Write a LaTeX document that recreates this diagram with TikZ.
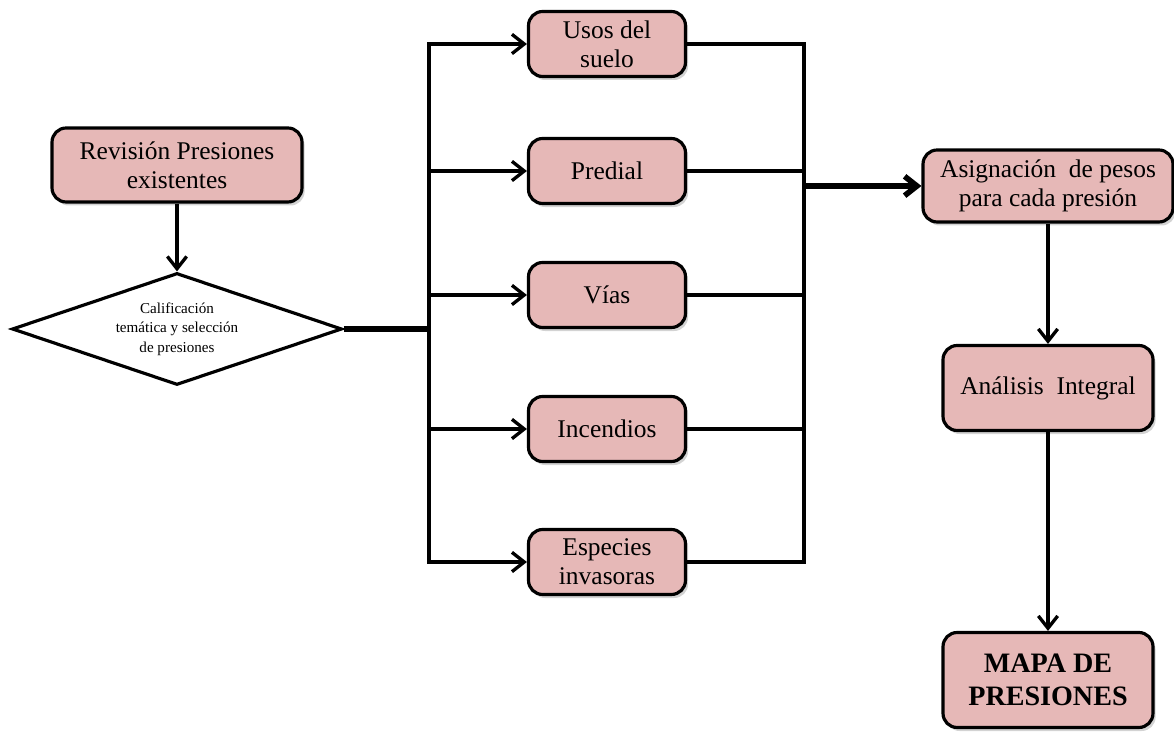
\documentclass[tikz,border=0pt]{standalone}
\usepackage{fontspec}
\setmainfont{Liberation Serif}
\usetikzlibrary{arrows.meta,shapes.geometric,shadows}

\definecolor{boxpink}{RGB}{230,184,183}

\begin{document}
\begin{tikzpicture}[x=0.02cm, y=-0.02cm,
  font=\fontsize{14.5}{16.5}\selectfont, >={Straight Barb[length=7pt,width=11pt]},
  box/.style={draw, line width=1.8pt, rounded corners=8pt, fill=boxpink, align=center, inner sep=2pt,
    drop shadow={opacity=0.35, shadow xshift=1.5pt, shadow yshift=-2pt}},
  mid/.style={box, minimum width=3.14cm, minimum height=1.3cm},
  dec/.style={draw, diamond, aspect=3, line width=1.8pt, fill=white, align=center, inner sep=0pt,
    minimum width=6.6cm, minimum height=2.24cm, font=\fontsize{8.6}{11}\selectfont},
  link/.style={line width=1.9pt},
  trunk/.style={line width=3.2pt}]

  \useasboundingbox (0,0) rectangle (1174,732);

  % --- review and selection ---
  \node[box, minimum width=5cm, minimum height=1.48cm] (rev) at (177,165) {Revisión Presiones\\existentes};
  \node[dec] (calif) at (177,329) {Calificación\\temática y selección\\de presiones};

  % --- the five pressures ---
  \node[mid] (usos) at (607,44)  {Usos del\\suelo};
  \node[mid] (pred) at (607,171) {Predial};
  \node[mid] (vias) at (607,295) {Vías};
  \node[mid] (inc)  at (607,429) {Incendios};
  \node[mid] (esp)  at (607,562) {Especies\\invasoras};

  % --- weighting and result ---
  \node[box, minimum width=5cm, minimum height=1.44cm] (asig) at (1048,186) {Asignación~ de pesos\\para cada presión};
  \node[box, minimum width=4.2cm, minimum height=1.7cm] (anal) at (1048,388) {Análisis~ Integral};
  \node[box, minimum width=4.2cm, minimum height=1.9cm, font=\fontsize{16}{19}\selectfont\bfseries] (mapa) at (1048,680) {MAPA DE\\PRESIONES};

  \coordinate (split) at (429,329);
  \coordinate (join) at (804,186);

  \draw[link,->] (rev) -- (calif);
  \draw[trunk] (calif.east) -- (split);
  \draw[link, line cap=rect] (split |- usos) -- (split |- esp);
  \foreach \n in {usos,pred,vias,inc,esp} \draw[link,->] (split |- \n) -- (\n);
  \foreach \n in {usos,pred,vias,inc,esp} \draw[link] (\n) -- (join |- \n);
  \draw[link, line cap=rect] (join |- usos) -- (join |- esp);
  \draw[trunk,->] (join) -- (asig);
  \draw[link,->] (asig) -- (anal);
  \draw[link,->] (anal) -- (mapa);
\end{tikzpicture}
\end{document}
